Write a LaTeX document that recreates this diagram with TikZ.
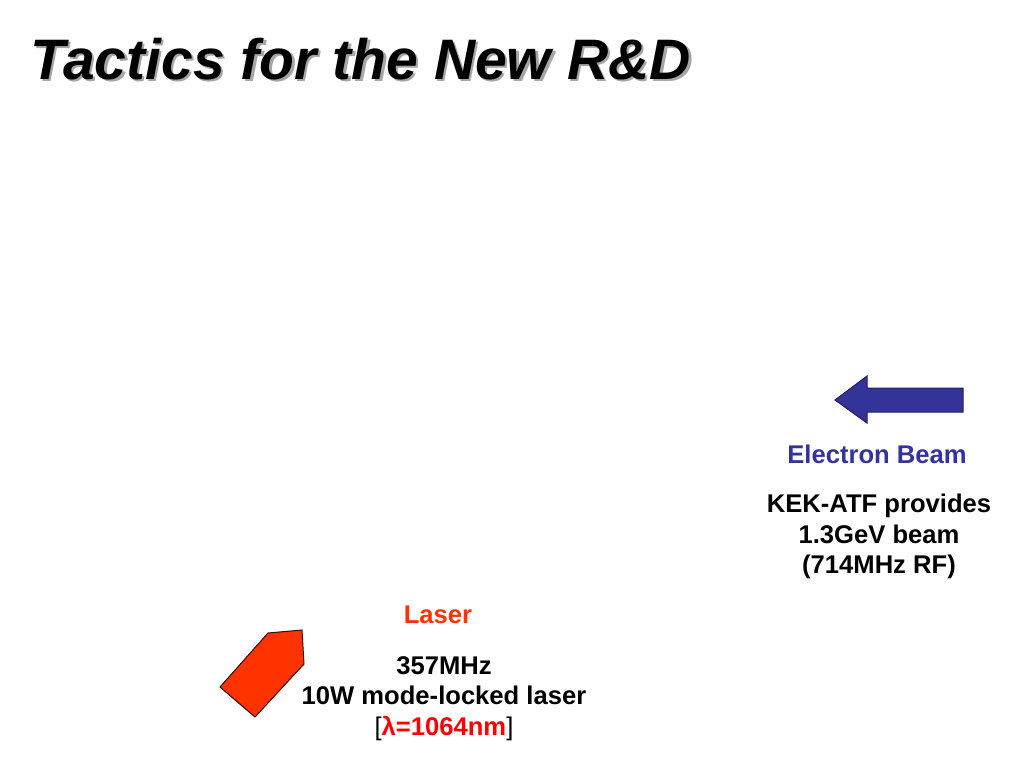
\documentclass[tikz,border=0pt]{standalone}
\usepackage{fontspec}
\setmainfont{Liberation Sans}
\usepackage{xcolor}
\usetikzlibrary{positioning}

\definecolor{beamblue}{HTML}{333399}
\definecolor{laserred}{HTML}{FF3300}
\definecolor{lambdared}{HTML}{FF0000}

\begin{document}
\begin{tikzpicture}[
    x=0.75pt, y=-0.75pt,
    heading/.style={font=\fontsize{42.8}{50}\selectfont\bfseries\itshape,
                    inner sep=0pt, anchor=base west},
    headline/.style={font=\fontsize{19.2}{22.9}\selectfont\bfseries,
                     inner sep=0pt, anchor=base},
    infotext/.style={font=\fontsize{19.2}{22.9}\selectfont\bfseries,
                     inner sep=0pt, align=center},
    blockarrow/.style={draw, line width=0.75pt, line join=miter}
]
\useasboundingbox (0,0) rectangle (1024,768);

% title with its shadow
\node[heading, text=black!35] (titleshadow) at (32.5,81.5) {Tactics for the New R\&D};
\node[heading]                (title)       at (30,79)     {Tactics for the New R\&D};

% electron beam
\draw[blockarrow, fill=beamblue, draw=beamblue!60!black]
    (835,400) -- (867,376) -- (867,388) -- (963,388) -- (963,412)
    -- (867,412) -- (867,423) -- cycle;
\node[headline, text=beamblue] (beam) at (877,463) {Electron Beam};
\node[infotext, below=22.6pt of beam, xshift=1.5pt] (atf)
    {KEK-ATF provides\\1.3GeV beam\\(714MHz RF)};

% laser
\draw[blockarrow, fill=laserred, draw=black!80!laserred]
    (220,687) -- (268,633) -- (302,630) -- (304,664) -- (255,717) -- cycle;
\node[headline, text=laserred] (laser) at (438,623) {Laser};
\node[infotext, below=24.3pt of laser, xshift=4.5pt] (modelock)
    {357MHz\\10W mode-locked laser\\{\mdseries[}\textcolor{lambdared}{λ=1064nm}{\mdseries]}};
\end{tikzpicture}
\end{document}
